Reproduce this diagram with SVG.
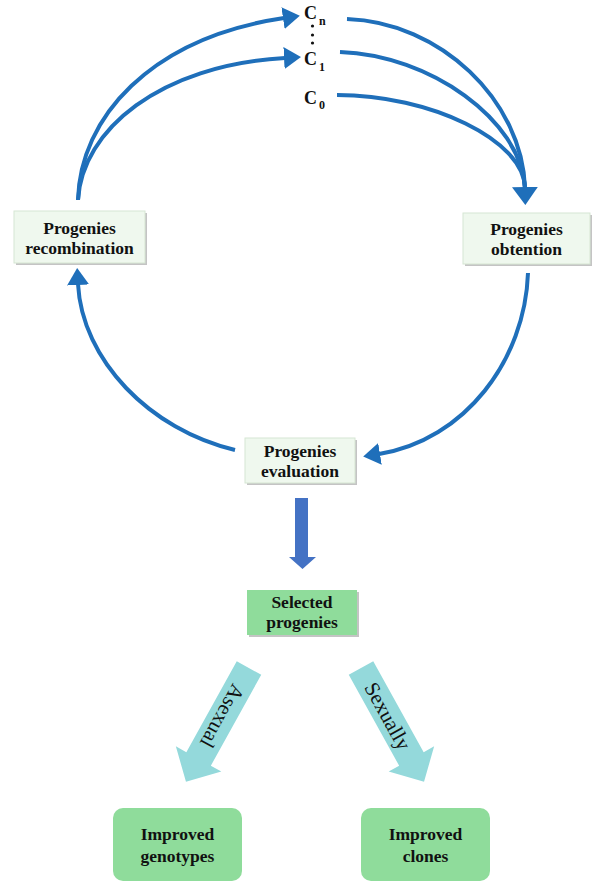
<svg xmlns="http://www.w3.org/2000/svg" width="593" height="882" viewBox="0 0 593 882">
  <style>
    .lbl { font-family: "Liberation Serif", "Times New Roman", serif; font-weight: bold; font-size: 17.5px; fill: #111; text-anchor: middle; }
    .cl { font-family: "Liberation Serif", "Times New Roman", serif; font-weight: bold; font-size: 18px; fill: #111; }
    .sub { font-family: "Liberation Serif", "Times New Roman", serif; font-weight: bold; font-size: 12px; fill: #111; }
    .way { font-family: "Liberation Serif", "Times New Roman", serif; font-size: 21px; fill: #111; text-anchor: middle; }
    .pale { fill: #eff8ee; stroke: #d6e6d3; stroke-width: 1; }
    .shade { fill: #c4c4c4; }
    .green { fill: #8fdc9b; }
    .arc { fill: none; stroke: #1f6fba; stroke-width: 4; stroke-linecap: butt; }
    .route { fill: #94d9db; }
  </style>
  <defs>
    <marker id="head" markerUnits="userSpaceOnUse" markerWidth="18" markerHeight="22" refX="1" refY="11" orient="auto">
      <path d="M0,0 L17,11 L0,22 Z" fill="#1f6fba"/>
    </marker>
    <marker id="headBig" markerUnits="userSpaceOnUse" markerWidth="19" markerHeight="26" refX="1" refY="13" orient="auto">
      <path d="M0,0 L18,13 L0,26 Z" fill="#1f6fba"/>
    </marker>
  </defs>

  <rect width="593" height="882" fill="#ffffff"/>

  <!-- cycle labels C0 ... Cn -->
  <g id="cycles">
    <text class="cl" x="304" y="19">C</text><text class="sub" x="319" y="25">n</text>
    <circle cx="312.5" cy="26" r="1.6" fill="#111"/>
    <circle cx="312.5" cy="35" r="1.6" fill="#111"/>
    <circle cx="312.5" cy="43" r="1.6" fill="#111"/>
    <text class="cl" x="304" y="65">C</text><text class="sub" x="319" y="71">1</text>
    <text class="cl" x="304" y="104">C</text><text class="sub" x="319" y="109">0</text>
  </g>

  <!-- connectors -->
  <g id="connectors">
    <path class="arc" d="M78,200 C80,118 150,38 284,18" marker-end="url(#head)"/>
    <path class="arc" d="M78,200 C82,130 160,65 285,58" marker-end="url(#head)"/>
    <path class="arc" d="M347,19 C440,22 522,100 525,188"/>
    <path class="arc" d="M340,52 C430,55 521,120 525,188"/>
    <path class="arc" d="M337,95 C430,95 524,140 525,188" marker-end="url(#headBig)"/>
    <path class="arc" d="M528,273 C525,360 465,440 379,454" marker-end="url(#head)"/>
    <path class="arc" d="M235,450 C150,430 82,360 78,284" marker-end="url(#head)"/>
    <!-- evaluation to selection -->
    <path d="M295,498 H308 V557 H316 L302.5,569 L289,557 H295 Z" fill="#4472c4"/>
    <!-- asexual route -->
    <g transform="translate(249,668) rotate(119)">
      <path class="route" d="M0,-14 H104 V-26 L130,0 L104,26 V14 H0 Z"/>
      <text class="way" x="55" y="7">Asexual</text>
    </g>
    <!-- sexual route -->
    <g transform="translate(361,668) rotate(61)">
      <path class="route" d="M0,-14 H104 V-26 L130,0 L104,26 V14 H0 Z"/>
      <text class="way" x="55" y="7">Sexually</text>
    </g>
  </g>

  <g id="recombination">
    <rect class="shade" x="16" y="213" width="131" height="52"/>
    <rect class="pale" x="14" y="211" width="131" height="52"/>
    <text class="lbl" x="79.5" y="234">Progenies</text>
    <text class="lbl" x="79.5" y="254">recombination</text>
  </g>

  <g id="obtention">
    <rect class="shade" x="465" y="215" width="127" height="51"/>
    <rect class="pale" x="463" y="213" width="127" height="51"/>
    <text class="lbl" x="526.5" y="235">Progenies</text>
    <text class="lbl" x="526.5" y="255">obtention</text>
  </g>

  <g id="evaluation">
    <rect class="shade" x="247" y="440" width="110" height="45"/>
    <rect class="pale" x="245" y="438" width="110" height="45"/>
    <text class="lbl" x="300" y="457">Progenies</text>
    <text class="lbl" x="300" y="477">evaluation</text>
  </g>

  <g id="selected">
    <rect class="shade" x="249" y="592" width="110" height="45"/>
    <rect class="green" x="247" y="590" width="110" height="45"/>
    <text class="lbl" x="302" y="608">Selected</text>
    <text class="lbl" x="302" y="628">progenies</text>
  </g>

  <g id="genotypes">
    <rect class="green" x="113" y="808" width="129" height="73" rx="10"/>
    <text class="lbl" x="177.5" y="840">Improved</text>
    <text class="lbl" x="177.5" y="862">genotypes</text>
  </g>

  <g id="clones">
    <rect class="green" x="361" y="808" width="129" height="73" rx="10"/>
    <text class="lbl" x="425.5" y="840">Improved</text>
    <text class="lbl" x="425.5" y="862">clones</text>
  </g>
</svg>
